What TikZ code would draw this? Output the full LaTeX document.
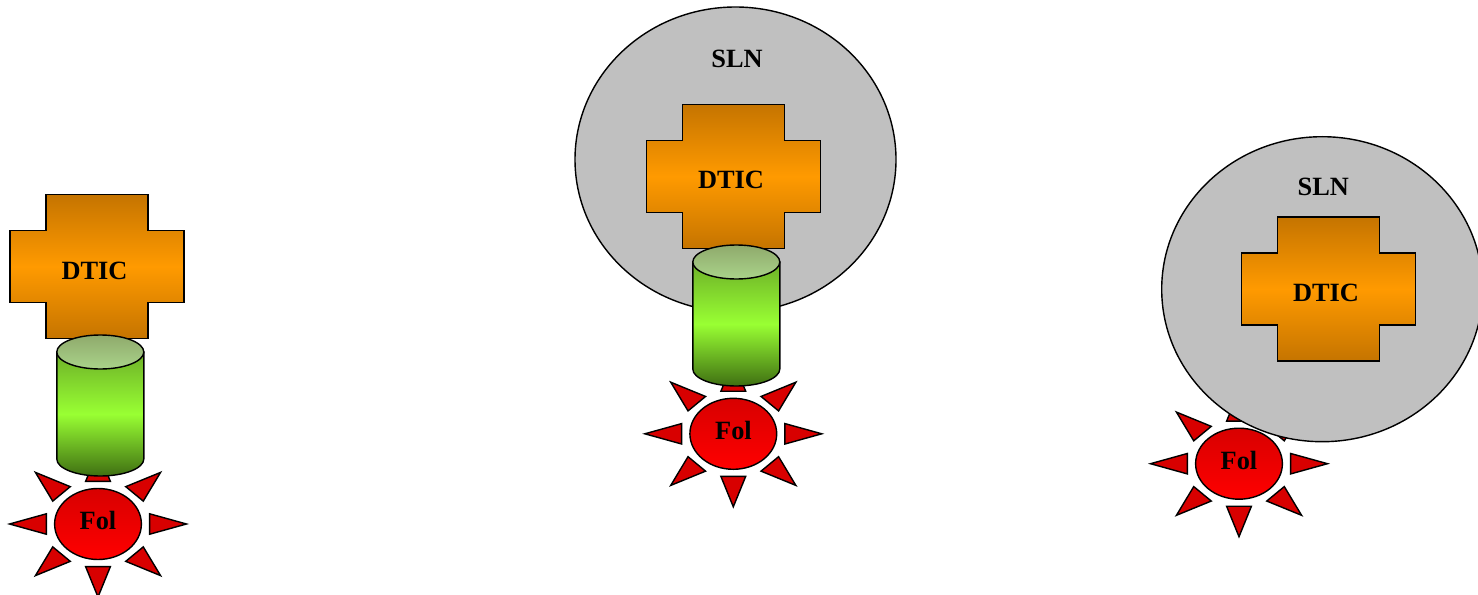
\documentclass[tikz,border=0pt]{standalone}
\usepackage{fontspec}
\setmainfont{Liberation Serif}

\definecolor{dticdark}{HTML}{C57400}
\definecolor{dticlight}{HTML}{FF9A00}
\definecolor{cylup}{HTML}{6DB028}
\definecolor{cylmid}{HTML}{99FF33}
\definecolor{cyldark}{HTML}{3F6F12}
\definecolor{cyltopa}{HTML}{8FAA6C}
\definecolor{cyltopb}{HTML}{AAD38A}
\definecolor{foldark}{HTML}{D80000}
\definecolor{follight}{HTML}{FF0000}
\definecolor{slngray}{HTML}{C0C0C0}

\tikzset{
    outline/.style={draw=black, line width=0.8pt},
    lbl/.style={font=\fontsize{15}{18}\selectfont\bfseries, inner sep=0pt},
    dtic/.pic={
        \path [outline, top color=dticdark, bottom color=dticdark, middle color=dticlight]
            (-51,-72) -- (51,-72) -- (51,-36) -- (87,-36) -- (87,36) -- (51,36) -- (51,72)
            -- (-51,72) -- (-51,36) -- (-87,36) -- (-87,-36) -- (-51,-36) -- cycle;
    },
    cyl/.pic={
        \path [outline, top color=cylup, bottom color=cyldark, middle color=cylmid]
            (-43.5,-53.5) -- (-43.5,53.5) arc [start angle=180, end angle=0, x radius=43.5, y radius=17]
            -- (43.5,-53.5) -- cycle;
        \path [outline, top color=cyltopa, bottom color=cyltopb] (0,-53.5) ellipse [x radius=43.5, y radius=17];
    },
    sol/.pic={
        \begin{scope}[xscale=88.5, yscale=73]
            \foreach \a in {0,45,...,315}
                \path [outline, fill=foldark] (\a-13.5:0.6) -- (\a:1) -- (\a+13.5:0.6) -- cycle;
        \end{scope}
        \path [outline, top color=foldark, bottom color=follight] (0,0) ellipse [x radius=43.4, y radius=35.5];
    }
}

\begin{document}
\begin{tikzpicture}[x=0.02cm, y=-0.02cm]
    \useasboundingbox (0,0) rectangle (1478,595);

    \pic at (98,524) {sol};
    \pic at (97,266.5) {dtic};
    \pic at (100.3,405.5) {cyl};
    \node [lbl] (dticA) at (94.5,270.5) {DTIC};
    \node [lbl] (folA) at (98,520.5) {Fol};

    \path [outline, fill=slngray] (735.5,159.5) ellipse [x radius=160.5, y radius=152.5];
    \node [lbl] (slnB) at (737,58.5) {SLN};
    \pic at (733.7,176.3) {dtic};
    \pic at (733.3,433.8) {sol};
    \pic at (736.3,315.5) {cyl};
    \node [lbl] (dticB) at (731,180.3) {DTIC};
    \node [lbl] (folB) at (733.5,430) {Fol};

    \pic at (1239,463.7) {sol};
    \path [outline, fill=slngray] (1322.2,289.2) ellipse [x radius=160.5, y radius=152.5];
    \node [lbl] (slnC) at (1323.3,187) {SLN};
    \pic at (1328.5,289) {dtic};
    \node [lbl] (dticC) at (1326,293) {DTIC};
    \node [lbl] (folC) at (1239,460.5) {Fol};
\end{tikzpicture}
\end{document}
